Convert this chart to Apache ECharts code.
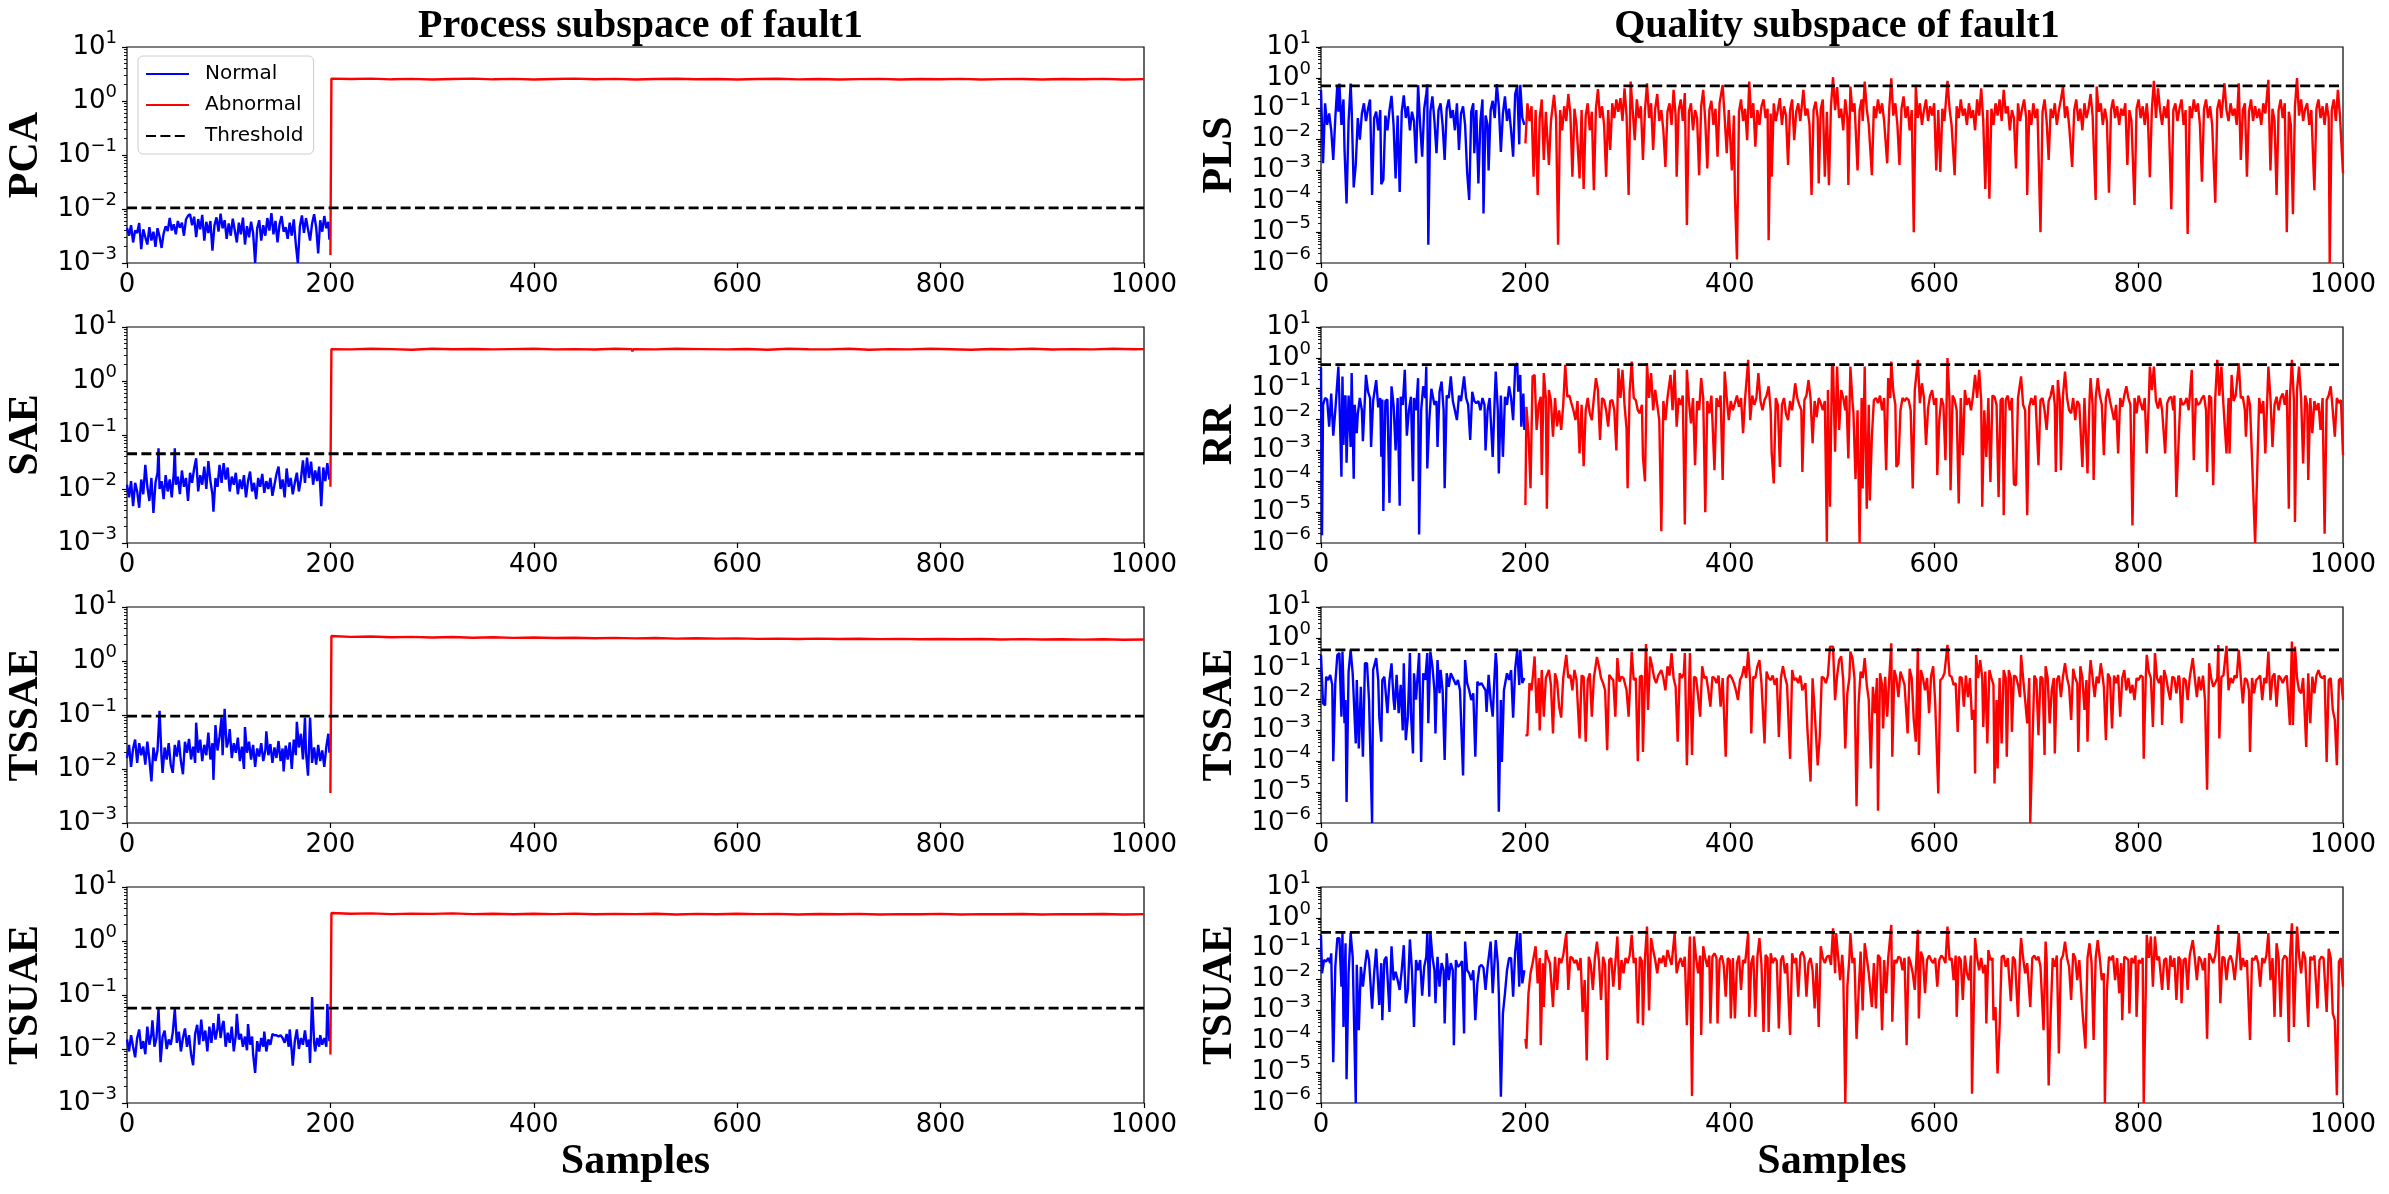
<!DOCTYPE html>
<html>
<head>
<meta charset="utf-8">
<script src="https://cdn.jsdelivr.net/npm/echarts@6/dist/echarts.min.js"></script>
<style>
html, body { margin: 0; padding: 0; background: #fff; }
#chart { width: 2389px; height: 1194px; }
</style>
</head>
<body>
<div id="chart"></div>
<script>
// sample axis
const xTicks = [0, 200, 400, 600, 800, 1000]

// ---- process subspace (left column) ----
const pcaThreshold = 1.05e-2
const pcaNormal = [[0,4.5e-3],[2,3.2e-3],[4,5e-3],[6,2.4e-3],[8,4e-3],[10,3.6e-3],[12,5.5e-3],[14,1.8e-3],[16,4.2e-3],[18,3e-3],[20,2.2e-3],[22,4.6e-3],[24,2.6e-3],[26,3.8e-3],[28,2e-3],[30,4.4e-3],[32,3.1e-3],[34,1.9e-3],[36,3.5e-3],[38,4.8e-3],[40,3.9e-3],[42,6.8e-3],[44,4e-3],[46,5.2e-3],[48,3.4e-3],[50,6e-3],[52,4.5e-3],[54,5.6e-3],[56,3.2e-3],[58,6.4e-3],[60,7.5e-3],[62,8e-3],[64,5e-3],[66,7.2e-3],[68,3e-3],[70,6.5e-3],[72,4.2e-3],[74,7.8e-3],[76,2.6e-3],[78,5.8e-3],[80,3.6e-3],[82,6e-3],[84,1.7e-3],[86,5e-3],[88,7e-3],[90,3.8e-3],[92,8.2e-3],[94,4.4e-3],[96,6.2e-3],[98,2.8e-3],[100,5.4e-3],[102,3.2e-3],[104,6.6e-3],[106,4e-3],[108,2.4e-3],[110,5.6e-3],[112,3.4e-3],[114,6.9e-3],[116,2.2e-3],[118,4.8e-3],[120,3e-3],[122,5.8e-3],[124,3.6e-3],[126,1e-3],[128,4.4e-3],[130,6.2e-3],[132,2.6e-3],[134,5e-3],[136,3.2e-3],[138,6.8e-3],[140,4e-3],[142,8.4e-3],[144,3.4e-3],[146,6e-3],[148,2.4e-3],[150,5.2e-3],[152,7.4e-3],[154,3.8e-3],[156,4.6e-3],[158,2.8e-3],[160,5.6e-3],[162,3.2e-3],[164,6.4e-3],[166,2.2e-3],[168,1e-3],[170,4.8e-3],[172,7.6e-3],[174,3.6e-3],[176,6.8e-3],[178,4.2e-3],[180,2.6e-3],[182,5.4e-3],[184,8e-3],[186,4.6e-3],[188,1.5e-3],[190,6.2e-3],[192,3.8e-3],[194,7.4e-3],[196,4.4e-3],[198,5.8e-3],[199,2.7e-3]]
const pcaAbnormal = [[200,1.4e-3],[201,2.6],[220,2.55],[240,2.6],[260,2.52],[280,2.57],[300,2.5],[320,2.56],[340,2.6],[360,2.52],[380,2.57],[400,2.5],[420,2.55],[440,2.6],[460,2.53],[480,2.57],[500,2.5],[520,2.55],[540,2.58],[560,2.52],[580,2.56],[600,2.5],[620,2.55],[640,2.58],[660,2.51],[680,2.56],[700,2.5],[720,2.54],[740,2.57],[760,2.5],[780,2.55],[800,2.52],[820,2.57],[840,2.5],[860,2.54],[880,2.56],[900,2.5],[920,2.55],[940,2.52],[960,2.57],[980,2.5],[1000,2.54]]

const saeThreshold = 4.5e-2
const saeNormal = [[0,1.2e-2],[2,7e-3],[4,1.4e-2],[6,4.8e-3],[8,1.3e-2],[10,9e-3],[12,4.5e-3],[14,1.5e-2],[16,8e-3],[18,2.8e-2],[20,1.1e-2],[22,6e-3],[24,1.6e-2],[26,3.6e-3],[28,1.3e-2],[30,2e-2],[31,5.7e-2],[32,1e-2],[34,1.4e-2],[36,6.5e-3],[38,1.8e-2],[40,9e-3],[42,1.5e-2],[44,7e-3],[46,2e-2],[47,5.7e-2],[48,1.2e-2],[50,1.7e-2],[52,8e-3],[54,2.2e-2],[56,1.1e-2],[58,1.6e-2],[60,6e-3],[62,2e-2],[64,1.3e-2],[66,2.4e-2],[68,3.7e-2],[70,9e-3],[72,1.8e-2],[74,1.2e-2],[76,2.6e-2],[78,1e-2],[80,3.3e-2],[82,1.4e-2],[84,8e-3],[85,3.8e-3],[87,1.6e-2],[89,1.1e-2],[91,2.8e-2],[93,1.3e-2],[95,3e-2],[97,1.5e-2],[99,2.5e-2],[101,9e-3],[103,1.7e-2],[105,1.2e-2],[107,2e-2],[109,8e-3],[111,1.5e-2],[113,1e-2],[115,1.8e-2],[117,7e-3],[119,1.4e-2],[121,2.1e-2],[123,9e-3],[125,1.3e-2],[127,6.5e-3],[129,1.6e-2],[131,1.1e-2],[133,1.9e-2],[135,8.5e-3],[137,1.4e-2],[139,1e-2],[141,1.6e-2],[143,7.5e-3],[145,1.2e-2],[147,1.9e-2],[149,2.6e-2],[151,1e-2],[153,1.5e-2],[155,7e-3],[157,2.4e-2],[159,1.1e-2],[161,1.6e-2],[163,8e-3],[165,1.3e-2],[167,2e-2],[169,9e-3],[171,1.5e-2],[173,3.4e-2],[175,1.3e-2],[177,3.8e-2],[179,1.6e-2],[181,3.2e-2],[183,1.2e-2],[185,2.2e-2],[187,1.4e-2],[189,2.6e-2],[191,4.8e-3],[193,2.5e-2],[195,1.4e-2],[197,3e-2],[199,1.5e-2]]
const saeAbnormal = [[200,1.1e-2],[201,3.9],[220,3.85],[240,3.95],[260,3.9],[280,3.8],[300,3.95],[320,3.88],[340,3.92],[360,3.85],[376,3.9],[377,3.6],[378,3.9],[400,3.95],[420,3.85],[440,3.9],[460,3.82],[480,3.95],[496,3.9],[497,3.55],[498,3.9],[520,3.85],[540,3.95],[564,3.9],[565,3.6],[566,3.9],[590,3.85],[610,3.92],[630,3.8],[650,3.95],[670,3.88],[690,3.85],[710,3.95],[730,3.8],[750,3.9],[770,3.85],[790,3.95],[810,3.88],[830,3.8],[850,3.92],[870,3.85],[890,3.95],[910,3.82],[930,3.9],[950,3.85],[970,3.95],[990,3.88],[1000,3.9]]

const tssaeThreshold = 9.5e-2
const tssaeNormal = [[0,1.6e-2],[2,2.8e-2],[4,1.1e-2],[6,2.4e-2],[8,3.5e-2],[10,1.3e-2],[12,3e-2],[14,1.8e-2],[16,2.6e-2],[18,1.2e-2],[20,3.2e-2],[22,1.5e-2],[24,5.9e-3],[26,2.5e-2],[28,1.4e-2],[30,2.2e-2],[32,0.12],[34,1.6e-2],[35,8.5e-3],[37,2.5e-2],[39,1.5e-2],[41,3e-2],[43,1.2e-2],[45,8.5e-3],[47,2.8e-2],[49,1.7e-2],[51,3.4e-2],[53,1.4e-2],[55,8e-3],[57,3.2e-2],[59,2e-2],[61,3.6e-2],[63,1.5e-2],[65,2.6e-2],[67,1.3e-2],[68,7.2e-2],[70,2e-2],[72,3.5e-2],[74,1.4e-2],[76,2.8e-2],[78,1.8e-2],[80,4.7e-2],[82,1.5e-2],[84,3e-2],[85,6.3e-3],[87,6.5e-2],[89,2.2e-2],[91,4e-2],[93,9e-2],[94,1.8e-2],[96,0.13],[98,2.5e-2],[100,3.5e-2],[101,5.5e-2],[103,1.6e-2],[105,3e-2],[107,2e-2],[109,3.8e-2],[111,1.4e-2],[113,2.6e-2],[115,1e-2],[116,6e-2],[118,2e-2],[120,3.2e-2],[122,1.5e-2],[124,2.8e-2],[126,1.1e-2],[128,2.4e-2],[130,1.7e-2],[132,3e-2],[134,1.4e-2],[136,2.2e-2],[137,5e-2],[139,1.8e-2],[141,2.9e-2],[143,1.3e-2],[145,2.5e-2],[147,1.6e-2],[149,3.3e-2],[151,1.4e-2],[153,2.4e-2],[154,9e-3],[156,2.7e-2],[158,1.5e-2],[160,3.1e-2],[162,1e-2],[164,3.5e-2],[166,1.8e-2],[167,7.5e-2],[169,2.5e-2],[171,4.5e-2],[173,1.5e-2],[175,9e-2],[176,2e-2],[178,7.5e-3],[180,9e-2],[182,1.3e-2],[184,2.5e-2],[186,1.2e-2],[188,2.8e-2],[190,1.4e-2],[192,2.2e-2],[194,1.1e-2],[196,2.6e-2],[198,4.5e-2],[199,2e-2]]
const tssaeAbnormal = [[200,3.6e-3],[201,2.9],[220,2.8],[240,2.85],[260,2.75],[280,2.8],[300,2.72],[320,2.78],[340,2.7],[360,2.75],[380,2.68],[400,2.72],[420,2.66],[440,2.7],[460,2.64],[480,2.68],[500,2.62],[520,2.66],[540,2.6],[560,2.64],[580,2.6],[600,2.62],[620,2.57],[640,2.6],[660,2.56],[680,2.6],[700,2.55],[720,2.58],[740,2.54],[760,2.57],[780,2.53],[800,2.56],[820,2.52],[840,2.55],[860,2.5],[880,2.54],[900,2.5],[920,2.53],[940,2.49],[960,2.52],[980,2.48],[1000,2.5]]

const tsuaeThreshold = 5.7e-2
const tsuaeNormal = [[0,1.5e-2],[2,9e-3],[4,1.8e-2],[6,1.1e-2],[8,7e-3],[10,1.6e-2],[12,2.3e-2],[14,1e-2],[16,1.4e-2],[18,8e-3],[20,2.6e-2],[22,1.2e-2],[24,1.9e-2],[25,3.4e-2],[27,1.1e-2],[29,1.6e-2],[31,5.5e-2],[33,5.7e-3],[35,1.7e-2],[37,2.2e-2],[39,1e-2],[41,1.5e-2],[43,1.2e-2],[45,2e-2],[47,5.5e-2],[49,1.3e-2],[51,2.1e-2],[53,9e-3],[55,1.6e-2],[57,2.4e-2],[59,1.1e-2],[61,1.8e-2],[63,8e-3],[65,5e-3],[67,1.9e-2],[69,2.8e-2],[71,1.2e-2],[73,3.5e-2],[75,1.4e-2],[77,2.2e-2],[79,9e-3],[81,2.6e-2],[83,1.3e-2],[85,3e-2],[87,1.5e-2],[89,2.4e-2],[90,4.5e-2],[92,1.6e-2],[94,2.9e-2],[95,3.3e-2],[97,1.1e-2],[99,2e-2],[101,1.3e-2],[103,2.6e-2],[105,9e-3],[107,1.8e-2],[108,4.5e-2],[110,1.5e-2],[112,1.9e-2],[114,1.1e-2],[116,1.7e-2],[118,9.5e-3],[119,2.9e-2],[121,1.2e-2],[123,1.7e-2],[124,8e-3],[126,3.6e-3],[128,1.4e-2],[130,9e-3],[132,1.6e-2],[134,1.1e-2],[135,2.1e-2],[137,9e-3],[139,1.5e-2],[141,1.2e-2],[143,1.9e-2],[145,1.8e-2],[147,1.8e-2],[149,1.7e-2],[151,1.8e-2],[153,1.6e-2],[155,1.3e-2],[157,1.9e-2],[159,1.1e-2],[160,2.3e-2],[162,9e-3],[163,4.9e-3],[165,1.4e-2],[167,2.3e-2],[169,1e-2],[171,1.6e-2],[173,1.2e-2],[175,2.2e-2],[177,1.1e-2],[179,1.5e-2],[180,5.5e-3],[182,9.2e-2],[184,1.3e-2],[185,9e-3],[187,1.6e-2],[189,1.1e-2],[190,1.8e-2],[192,1.2e-2],[194,1.6e-2],[196,1.1e-2],[197,6.8e-2],[199,1.4e-2]]
const tsuaeAbnormal = [[200,7.9e-3],[201,3.3],[220,3.2],[240,3.25],[260,3.15],[280,3.22],[300,3.18],[320,3.25],[340,3.15],[360,3.2],[380,3.12],[400,3.2],[420,3.15],[440,3.22],[460,3.12],[480,3.18],[500,3.15],[520,3.2],[540,3.1],[560,3.18],[580,3.12],[600,3.2],[620,3.14],[640,3.18],[660,3.1],[680,3.16],[700,3.12],[720,3.18],[740,3.1],[760,3.15],[780,3.12],[800,3.18],[820,3.1],[840,3.15],[860,3.12],[880,3.17],[900,3.1],[920,3.15],[940,3.12],[960,3.16],[980,3.1],[1000,3.14]]

// ---- quality subspace (right column) ----
const plsThreshold = 0.55
const plsNormal = [[0,0.4],[2,1.7e-3],[4,0.15],[6,0.03],[8,0.07],[10,0.02],[12,2.2e-3],[14,0.05],[16,0.6],[17,0.08],[18,0.65],[20,0.03],[22,0.2],[23,5e-3],[25,8.5e-5],[27,0.04],[29,0.65],[30,0.1],[32,2.8e-4],[34,1.5e-3],[36,0.05],[38,0.01],[40,0.07],[42,0.15],[44,0.04],[46,0.1],[48,0.2],[50,1.6e-4],[52,0.05],[54,0.08],[56,0.02],[58,0.09],[59,3.6e-4],[61,5e-4],[63,0.06],[65,0.02],[67,0.09],[69,0.26],[71,0.03],[73,5.5e-4],[75,0.06],[77,2e-4],[79,0.08],[81,0.27],[83,0.05],[85,0.12],[87,0.02],[89,0.08],[91,0.04],[93,1.7e-3],[95,0.58],[97,0.03],[99,2.8e-3],[101,0.1],[103,0.3],[104,0.62],[105,3.9e-6],[107,0.08],[109,0.25],[111,0.04],[113,3.6e-3],[115,0.09],[117,0.15],[119,0.03],[121,2.2e-3],[123,0.1],[125,0.2],[127,0.05],[129,0.09],[131,0.02],[133,0.15],[135,4.6e-3],[137,0.07],[139,0.12],[141,0.03],[143,8.7e-4],[145,1.1e-4],[147,0.08],[149,0.15],[150,3.6e-3],[152,0.09],[154,3.8e-4],[156,0.04],[158,0.2],[159,4e-5],[161,0.06],[163,0.03],[164,1e-3],[166,0.09],[168,0.18],[170,0.05],[172,0.63],[174,0.12],[176,4e-3],[178,0.07],[180,0.25],[182,0.04],[184,0.1],[186,0.02],[188,2.8e-3],[190,0.3],[192,0.55],[194,7e-3],[195,0.6],[197,0.05],[199,0.03]]
const plsAbnormal = [[200,7.5e-3],[202,0.15],[204,0.04],[206,0.12],[208,6.3e-4],[210,0.09],[212,1.6e-4],[214,0.05],[216,0.2],[218,2.2e-3],[220,0.08],[223,1.5e-3],[225,0.04],[228,0.28],[230,0.05],[232,3.9e-6],[234,0.09],[236,0.02],[238,0.12],[240,0.04],[242,0.3],[244,0.07],[246,6.2e-4],[248,0.1],[250,0.03],[253,5.5e-4],[255,0.09],[257,2.5e-4],[259,0.06],[261,0.15],[263,0.02],[265,0.08],[267,2.3e-4],[269,0.1],[271,0.43],[273,0.05],[275,0.12],[277,0.03],[279,6.2e-4],[281,0.09],[283,4.6e-3],[285,0.15],[287,0.05],[289,0.2],[291,0.08],[293,0.22],[295,0.04],[297,0.46],[299,0.06],[301,1.6e-4],[303,0.76],[305,0.09],[307,9.6e-3],[309,0.2],[311,0.05],[313,0.12],[315,2.2e-3],[317,0.09],[319,0.67],[321,0.05],[323,0.15],[325,4.6e-3],[327,0.1],[329,0.3],[331,0.04],[333,0.09],[335,0.02],[337,1.3e-3],[339,0.08],[341,0.15],[343,0.03],[345,0.41],[347,0.06],[348,6.2e-4],[350,0.09],[352,0.2],[354,0.04],[356,0.32],[358,1.7e-5],[360,0.08],[362,0.15],[364,0.02],[366,0.09],[368,0.05],[370,7e-4],[372,0.12],[374,0.41],[376,0.04],[378,1.15e-3],[380,0.09],[382,0.18],[384,0.03],[386,0.1],[388,2.8e-3],[390,0.15],[393,0.59],[395,0.05],[397,3.6e-3],[399,0.09],[402,1e-3],[404,0.06],[405,1.6e-4],[407,1.3e-6],[409,0.08],[411,0.2],[413,0.04],[415,0.1],[417,9.6e-3],[419,0.76],[421,0.05],[423,0.15],[425,5.9e-3],[427,0.09],[429,0.03],[431,0.12],[433,0.2],[435,0.05],[437,0.1],[438,5.5e-6],[440,0.07],[441,6.2e-4],[443,0.15],[445,0.04],[447,0.09],[449,0.22],[451,0.03],[453,0.12],[455,0.06],[457,1.5e-3],[459,0.09],[461,0.2],[463,9.6e-3],[465,0.08],[467,0.15],[469,0.04],[472,0.41],[474,0.06],[476,0.1],[478,0.03],[480,1.6e-4],[482,0.09],[484,0.17],[486,0.05],[487,3.8e-4],[489,0.1],[491,0.2],[493,6.2e-4],[495,0.08],[497,3.3e-4],[499,0.12],[501,1.05],[503,0.09],[505,0.5],[507,0.05],[509,0.1],[511,0.02],[513,0.2],[515,0.05],[516,3.4e-4],[518,0.52],[520,0.08],[522,0.15],[525,1e-3],[527,0.09],[529,0.2],[530,0.04],[532,0.76],[534,0.1],[536,0.03],[539,7e-4],[541,0.12],[543,0.05],[545,0.2],[547,0.07],[549,0.15],[551,0.04],[554,1.7e-3],[556,0.1],[558,0.97],[560,0.06],[562,0.15],[564,0.03],[566,1.5e-3],[568,0.1],[570,0.25],[572,0.05],[574,0.12],[576,0.02],[578,0.09],[580,1e-5],[582,0.52],[584,0.05],[586,0.15],[588,0.03],[590,0.09],[592,0.2],[594,0.04],[596,0.12],[598,0.06],[600,0.15],[602,1e-3],[604,0.09],[606,9e-4],[608,0.1],[610,0.04],[613,0.8],[615,0.1],[617,0.03],[620,7e-4],[622,0.12],[624,0.05],[626,0.2],[628,0.06],[630,0.1],[632,0.03],[634,0.15],[636,0.05],[638,0.09],[640,0.02],[642,0.2],[644,0.06],[646,0.46],[648,0.04],[650,2.5e-4],[652,0.09],[654,1.2e-4],[656,0.1],[658,0.03],[660,0.15],[662,0.06],[664,0.2],[666,0.04],[668,0.41],[670,0.07],[672,0.12],[674,0.02],[676,0.09],[678,0.05],[680,1.15e-3],[682,0.15],[684,0.04],[686,0.1],[688,0.2],[690,0.05],[691,1.6e-4],[693,0.09],[695,0.03],[697,0.15],[699,0.05],[701,0.1],[704,1e-5],[706,0.08],[708,0.2],[710,0.04],[712,2.2e-3],[714,0.1],[716,0.05],[718,0.15],[720,0.03],[722,0.09],[724,0.2],[726,0.52],[728,0.05],[730,0.12],[732,0.03],[735,1.3e-3],[737,0.09],[739,0.2],[741,0.04],[743,0.1],[745,0.02],[747,0.15],[749,0.05],[751,0.1],[753,0.3],[755,0.06],[758,1.1e-4],[759,0.52],[761,0.08],[763,0.15],[765,0.03],[767,0.1],[769,0.04],[771,1.9e-4],[773,0.09],[775,0.2],[777,0.05],[779,0.12],[781,0.03],[783,0.1],[785,0.06],[787,0.15],[789,1.5e-3],[791,0.09],[793,0.04],[796,7.6e-5],[798,0.1],[800,0.2],[802,0.05],[804,0.12],[806,0.03],[808,0.15],[809,0.06],[811,6e-4],[813,0.1],[815,0.8],[817,0.05],[819,0.46],[821,0.09],[823,0.03],[825,0.12],[827,0.05],[829,0.2],[832,5.5e-5],[834,0.09],[836,0.15],[838,0.04],[840,0.1],[842,0.2],[844,0.03],[846,0.09],[848,8.7e-6],[850,0.12],[852,0.05],[854,0.2],[856,0.08],[858,0.15],[860,0.03],[862,4.3e-4],[864,0.1],[866,0.2],[868,0.05],[870,0.12],[872,0.03],[875,9e-5],[877,0.1],[879,0.2],[881,0.05],[884,0.67],[886,0.09],[888,0.04],[890,0.15],[892,0.06],[894,0.1],[896,0.03],[898,0.67],[900,2.2e-3],[902,0.09],[904,0.15],[906,6.2e-4],[908,0.08],[910,0.2],[912,0.04],[914,0.12],[916,0.05],[918,0.1],[920,0.03],[922,0.15],[924,0.07],[927,0.86],[929,1e-3],[931,0.1],[933,0.04],[935,1.6e-4],[937,0.09],[939,0.2],[941,0.05],[943,0.15],[945,1e-5],[947,0.08],[949,0.03],[951,3.8e-5],[953,0.12],[955,0.98],[957,0.06],[959,0.2],[961,0.04],[963,0.1],[965,0.15],[967,0.03],[969,0.09],[972,2.3e-4],[974,0.1],[976,0.2],[978,0.05],[980,0.12],[982,0.03],[984,0.15],[986,0.05],[987,1e-6],[989,0.09],[991,0.2],[993,0.04],[995,0.41],[997,0.06],[1000,8e-4]]

const rrThreshold = 0.6
const rrNormal = [[0,0.5],[1,1.8e-6],[2,0.03],[4,0.05],[6,0.045],[8,5.9e-3],[10,0.07],[12,3e-3],[14,0.02],[15,0.06],[17,0.52],[18,0.05],[20,1.4e-4],[21,0.25],[22,1.5e-3],[23,0.05],[24,0.06],[25,4e-4],[27,0.06],[29,1.3e-3],[30,0.32],[32,1.2e-4],[33,0.03],[35,3.6e-3],[36,0.015],[38,0.05],[40,0.02],[41,2e-3],[43,0.05],[44,0.28],[46,0.08],[48,0.05],[49,1.3e-3],[51,0.04],[54,0.19],[56,0.025],[58,0.05],[59,6.2e-4],[60,0.045],[61,1.1e-5],[63,0.04],[65,0.045],[67,2e-5],[69,0.12],[71,0.03],[73,1e-3],[75,0.05],[77,1.6e-5],[78,0.055],[80,0.03],[82,0.41],[84,3e-3],[86,0.02],[88,0.055],[90,1e-4],[91,0.05],[93,0.02],[95,0.22],[96,1.9e-6],[98,0.02],[100,0.12],[102,0.05],[103,0.52],[104,2.6e-4],[106,0.01],[108,0.1],[109,0.091],[111,0.03],[113,0.04],[114,1.3e-3],[116,0.08],[118,0.17],[120,0.02],[121,6e-5],[123,0.06],[125,0.05],[127,0.25],[129,0.04],[131,0.02],[133,9.6e-3],[135,0.06],[137,0.04],[140,0.25],[142,0.05],[144,0.03],[146,2.2e-3],[148,0.08],[150,0.04],[152,0.034],[154,0.04],[156,0.02],[158,0.05],[160,0.03],[161,1e-3],[163,0.02],[165,0.05],[168,6.2e-4],[170,0.05],[171,0.36],[173,0.02],[174,1.8e-4],[176,0.06],[178,6.2e-4],[180,0.055],[182,0.03],[184,0.12],[186,0.05],[188,9.6e-3],[190,0.52],[192,0.67],[193,0.08],[195,0.28],[196,5.9e-3],[198,0.07],[199,4.6e-3]]
const rrAbnormal = [[200,1.7e-5],[201,0.026],[203,3.6e-3],[205,6e-5],[207,0.25],[209,0.28],[211,4.6e-3],[213,0.03],[215,0.055],[216,1.6e-4],[218,0.32],[220,0.05],[221,1.3e-5],[223,0.091],[225,0.04],[227,2.8e-3],[229,0.05],[231,6e-3],[233,0.02],[235,4.6e-3],[237,0.03],[239,0.59],[241,0.055],[243,0.06],[245,0.034],[247,0.02],[249,9.6e-3],[251,0.04],[253,8e-4],[255,0.03],[257,3.1e-4],[259,0.02],[261,0.05],[263,0.016],[265,9.6e-3],[267,0.05],[269,0.22],[271,0.09],[273,2.2e-3],[275,0.05],[277,0.043],[279,0.02],[281,5.9e-3],[283,0.04],[285,0.043],[287,0.02],[289,1e-3],[291,0.46],[293,0.05],[295,0.41],[297,0.03],[299,5e-3],[300,6e-5],[302,0.08],[304,0.76],[306,0.05],[308,0.043],[310,0.02],[312,0.016],[314,0.03],[315,6.2e-4],[317,1e-4],[319,0.67],[321,0.05],[323,0.32],[325,0.02],[327,0.091],[329,0.03],[331,9.6e-3],[333,2.4e-6],[335,0.04],[337,9.6e-3],[339,0.05],[342,0.28],[344,0.02],[346,0.41],[348,5.9e-3],[350,0.05],[352,0.03],[354,0.06],[356,4e-6],[358,0.41],[360,0.04],[362,7.5e-3],[364,0.05],[366,3.3e-4],[368,0.04],[370,0.02],[372,0.22],[374,0.05],[376,1e-5],[378,0.04],[380,0.016],[382,0.06],[385,2.3e-4],[387,0.05],[389,0.026],[391,0.06],[393,1.1e-4],[395,0.36],[397,0.05],[399,9.6e-3],[401,0.04],[403,0.02],[405,0.034],[407,0.06],[409,0.026],[411,0.05],[413,3.6e-3],[415,0.05],[418,0.86],[420,9.6e-3],[422,0.06],[424,0.03],[426,0.05],[428,0.32],[430,0.04],[432,0.02],[434,0.043],[436,0.06],[438,0.12],[440,0.02],[441,8e-4],[443,8.5e-5],[445,0.05],[447,0.03],[449,2.9e-4],[451,0.03],[453,0.05],[455,0.015],[457,9.6e-3],[459,0.04],[461,0.02],[464,0.15],[466,0.05],[468,0.03],[470,0.02],[471,2e-4],[473,0.043],[475,0.06],[477,0.19],[479,0.05],[481,1.7e-3],[483,0.04],[485,0.012],[487,0.05],[489,0.034],[491,0.02],[493,0.04],[495,1.1e-6],[496,0.091],[498,1.5e-5],[500,0.5],[501,0.67],[503,9e-4],[505,0.52],[507,4.6e-3],[509,0.091],[511,0.05],[513,0.02],[514,0.06],[516,5.5e-4],[518,0.52],[520,0.04],[521,0.016],[523,1.2e-4],[525,0.02],[527,1e-6],[529,0.05],[530,5.8e-5],[532,0.52],[534,1.3e-5],[536,0.03],[537,2.4e-5],[539,2.8e-3],[541,0.043],[543,0.05],[545,0.034],[547,0.06],[549,0.02],[551,0.05],[553,2.3e-4],[555,0.22],[557,0.05],[558,0.76],[560,0.081],[562,0.03],[563,2.9e-4],[565,3.8e-4],[567,0.02],[569,0.05],[571,0.04],[573,0.05],[575,0.043],[577,0.02],[579,5.8e-5],[581,0.09],[584,0.86],[586,0.034],[588,0.15],[590,0.05],[592,1.5e-3],[594,0.023],[596,0.06],[598,0.09],[600,0.03],[602,0.05],[603,1.6e-4],[605,9.6e-3],[607,0.05],[609,0.03],[611,4.8e-4],[613,0.98],[615,0.04],[616,5.1e-5],[618,0.06],[620,0.043],[622,0.02],[624,1.9e-5],[626,0.05],[628,7e-4],[630,0.091],[632,0.03],[634,0.05],[636,0.02],[638,0.06],[640,0.28],[642,0.05],[644,0.41],[646,0.04],[647,1.5e-5],[649,0.02],[651,6.2e-4],[653,0.05],[655,9.5e-5],[657,0.06],[659,0.055],[661,0.03],[663,3.1e-5],[665,0.043],[667,0.05],[668,8e-6],[670,0.043],[672,0.06],[674,0.02],[676,0.05],[678,8e-5],[680,7.4e-5],[682,0.05],[685,0.25],[687,0.03],[689,0.02],[691,8e-6],[693,0.026],[695,0.05],[697,0.03],[699,0.06],[702,3.3e-4],[704,0.043],[706,0.05],[708,0.02],[710,4.6e-3],[712,0.04],[714,0.06],[716,0.13],[718,0.03],[719,2e-4],[721,0.19],[723,0.04],[724,2.3e-4],[726,0.06],[728,0.36],[730,0.05],[732,0.02],[734,0.016],[736,0.05],[738,9.6e-3],[740,0.04],[742,0.03],[745,2.9e-4],[747,0.05],[750,1.8e-4],[752,0.043],[753,0.22],[755,0.03],[756,1.1e-4],[758,0.05],[760,0.22],[762,0.06],[764,0.03],[766,7e-4],[768,0.05],[770,0.1],[772,0.04],[774,0.02],[776,9.6e-3],[778,0.03],[780,8e-4],[782,0.05],[784,0.026],[786,0.06],[788,0.12],[790,0.05],[792,0.03],[794,3.7e-6],[796,0.05],[798,0.016],[800,0.06],[802,0.034],[804,0.02],[806,0.05],[808,8e-4],[810,0.04],[811,0.52],[813,0.09],[815,0.52],[817,0.04],[819,0.023],[821,0.05],[823,0.02],[826,8e-4],[828,0.034],[830,0.05],[832,0.055],[834,0.02],[835,0.06],[837,3.1e-5],[839,1.5e-3],[841,0.05],[843,0.03],[845,0.034],[847,0.05],[849,0.02],[852,0.41],[854,4.8e-4],[856,0.05],[858,0.03],[860,0.034],[862,0.05],[864,0.06],[866,0.02],[867,2e-4],[869,0.06],[871,0.05],[873,7.4e-5],[875,0.05],[877,0.86],[879,0.06],[881,0.52],[883,0.03],[886,8e-4],[888,0.05],[889,8e-4],[891,0.28],[893,0.04],[895,0.06],[898,0.67],[900,0.05],[902,0.055],[904,0.02],[905,2.8e-3],[907,0.06],[909,0.03],[912,6.6e-5],[914,1e-6],[916,1.8e-4],[918,0.05],[920,0.016],[922,0.04],[924,8e-4],[926,0.06],[927,0.52],[929,0.05],[931,1.3e-3],[933,0.03],[935,0.055],[937,0.02],[939,0.05],[941,0.07],[943,0.03],[945,0.09],[947,1.3e-5],[948,0.05],[950,0.86],[952,0.04],[953,4.8e-6],[955,0.09],[957,0.52],[959,0.05],[961,3.8e-4],[963,0.06],[965,0.03],[966,1.1e-4],[968,0.05],[970,3.6e-3],[972,0.04],[974,0.02],[976,0.034],[978,4.6e-3],[980,0.05],[982,2e-6],[984,0.043],[986,0.06],[988,0.12],[990,0.02],[992,2.8e-3],[994,0.05],[996,0.034],[998,0.043],[1000,7e-4]]

const qTssaeThreshold = 0.41
const qTssaeNormal = [[0,0.28],[1,0.043],[2,7.5e-3],[4,6.5e-3],[5,0.055],[7,0.043],[9,0.063],[11,0.03],[12,1e-4],[14,0.034],[16,0.28],[18,0.32],[20,2.8e-3],[21,0.36],[23,1.7e-3],[24,9.6e-3],[25,4.8e-6],[27,0.081],[29,0.41],[31,0.071],[34,3.8e-4],[35,0.043],[37,2.6e-4],[39,0.026],[41,1.4e-4],[43,0.15],[45,0.15],[47,9.6e-3],[50,1e-6],[51,0.091],[54,0.22],[56,0.043],[57,2.8e-3],[59,4.3e-4],[60,0.043],[62,0.055],[65,3.6e-3],[67,0.043],[69,0.15],[71,0.01],[72,4.6e-3],[74,0.063],[76,3.6e-3],[78,0.03],[80,1e-3],[81,0.15],[83,4.8e-4],[85,2.8e-3],[87,0.32],[88,3.6e-3],[90,1.8e-4],[91,0.071],[93,0.01],[96,0.32],[98,9.5e-5],[100,0.071],[102,0.043],[104,0.32],[105,1.7e-3],[107,0.36],[109,0.12],[111,0.02],[112,8e-4],[114,0.19],[116,0.016],[117,0.091],[119,0.02],[121,1.1e-4],[123,0.071],[125,0.026],[127,0.071],[130,0.043],[132,0.03],[134,0.043],[136,0.02],[139,3.5e-5],[141,0.19],[143,0.034],[145,0.02],[147,9.6e-3],[149,0.016],[151,1.4e-4],[153,0.038],[155,0.03],[157,0.034],[159,0.026],[161,0.02],[162,4e-3],[164,0.063],[166,9.6e-3],[168,2.8e-3],[170,0.08],[171,0.32],[172,0.12],[174,2.3e-6],[176,9.6e-3],[177,9.5e-5],[179,0.02],[182,0.071],[184,0.043],[186,0.09],[188,2.6e-3],[190,0.1],[192,0.41],[194,0.03],[195,0.41],[197,0.034],[199,0.05]]
const qTssaeAbnormal = [[200,7e-4],[202,7e-4],[204,0.034],[206,0.02],[208,0.1],[209,0.25],[211,3.6e-3],[213,0.05],[214,1e-3],[216,0.091],[218,2.8e-3],[220,0.05],[223,0.091],[225,0.03],[227,8e-4],[229,0.071],[231,0.04],[233,5.9e-3],[235,2.6e-3],[237,0.05],[240,0.28],[242,0.05],[244,0.063],[246,0.02],[248,0.091],[250,0.043],[253,5.5e-4],[255,0.06],[257,0.055],[259,4.3e-4],[261,0.043],[263,0.071],[265,2.8e-3],[267,0.05],[270,0.24],[272,0.12],[274,0.05],[276,0.034],[278,0.02],[280,2.3e-4],[282,0.063],[284,0.05],[286,0.043],[288,2.8e-3],[290,0.22],[292,0.038],[294,0.055],[296,0.05],[299,0.02],[301,2.8e-3],[304,0.36],[306,0.043],[308,0.05],[310,1e-4],[312,0.055],[314,0.06],[315,2e-4],[317,0.05],[318,0.63],[320,4.6e-3],[322,0.25],[324,0.12],[326,0.05],[328,0.034],[330,0.06],[333,0.091],[335,0.05],[337,0.02],[339,0.12],[341,0.06],[343,0.32],[345,0.05],[347,0.026],[349,4.3e-4],[351,0.071],[353,0.05],[355,0.07],[356,0.32],[358,7.4e-5],[361,0.32],[363,1.6e-4],[365,0.055],[367,0.05],[369,0.013],[371,2.8e-3],[373,0.12],[375,0.05],[377,0.055],[379,0.02],[381,5.9e-3],[383,0.055],[385,0.05],[387,0.034],[389,0.06],[391,5.9e-3],[393,0.05],[396,1.4e-4],[398,0.05],[400,0.063],[402,0.05],[404,0.034],[406,0.02],[408,9.6e-3],[410,0.043],[412,0.06],[414,0.12],[416,0.05],[418,0.36],[420,0.034],[421,8e-4],[423,0.055],[425,0.05],[427,0.12],[429,0.19],[431,0.034],[434,3.8e-4],[436,0.081],[438,0.05],[440,0.043],[442,0.06],[444,0.03],[446,0.05],[448,6.2e-4],[450,0.05],[452,0.12],[454,0.055],[456,0.03],[459,1.2e-4],[461,0.091],[463,0.043],[465,0.05],[467,0.034],[469,0.06],[471,0.02],[474,0.034],[476,1e-3],[479,2.2e-5],[481,0.049],[483,4.6e-3],[486,7.4e-5],[488,6.2e-4],[490,0.055],[492,0.05],[494,0.034],[496,0.06],[498,0.52],[501,0.52],[503,9.6e-3],[505,0.06],[507,0.19],[509,0.25],[511,0.043],[513,2.6e-4],[515,0.016],[517,0.05],[518,0.36],[520,0.22],[522,0.05],[524,3.5e-6],[526,7.5e-3],[528,0.081],[530,0.05],[532,0.22],[534,0.03],[536,9.6e-3],[538,5.8e-5],[540,0.026],[542,3.6e-3],[544,0.05],[545,2.5e-6],[547,0.071],[549,0.03],[550,1.15e-3],[552,0.055],[554,2.8e-3],[556,0.049],[558,0.67],[559,1.4e-4],[561,0.091],[563,0.05],[565,0.012],[567,0.081],[569,0.05],[571,0.03],[574,8e-4],[576,0.1],[578,0.05],[580,2.2e-3],[582,4.3e-4],[584,0.46],[585,1.6e-4],[587,0.091],[589,0.05],[591,0.02],[593,0.05],[595,3.6e-3],[597,0.06],[599,0.12],[601,7.5e-3],[604,9e-6],[606,0.043],[608,0.05],[610,0.071],[613,0.59],[615,0.06],[617,0.055],[619,0.03],[621,0.034],[623,9e-4],[625,0.055],[627,0.05],[629,5.9e-3],[631,0.06],[633,0.012],[635,0.05],[637,2.2e-3],[639,4.6e-3],[640,4e-5],[641,0.28],[643,0.05],[645,0.19],[647,0.05],[648,1.3e-3],[650,0.081],[652,3.8e-4],[654,0.091],[656,0.05],[658,0.03],[659,1.9e-5],[661,9.6e-3],[662,5.8e-5],[664,0.05],[666,3.8e-4],[668,0.091],[670,0.05],[671,1.4e-4],[673,0.091],[675,0.05],[676,9e-4],[678,0.06],[680,0.055],[682,0.03],[684,0.012],[685,0.28],[687,0.05],[689,9.6e-3],[691,1.7e-3],[693,0.05],[694,1e-6],[696,2.9e-4],[698,0.06],[700,0.043],[702,7e-4],[704,0.055],[706,0.05],[708,1.6e-4],[709,0.12],[711,0.05],[713,1.7e-3],[715,0.02],[717,0.05],[718,1.8e-4],[720,0.043],[722,0.06],[724,0.012],[726,0.055],[728,0.15],[730,0.05],[732,0.026],[734,2.2e-3],[736,0.1],[738,0.05],[740,0.034],[741,2e-4],[743,0.12],[745,0.05],[747,4.6e-3],[749,0.043],[750,4.3e-4],[752,0.06],[753,0.19],[755,0.05],[757,0.012],[759,0.055],[761,0.034],[763,0.15],[765,0.05],[766,0.026],[768,4.8e-4],[770,0.07],[772,0.05],[774,1.15e-3],[776,0.06],[778,0.034],[780,0.063],[782,2.8e-3],[784,0.05],[786,0.09],[788,0.02],[790,0.05],[792,0.016],[794,0.03],[796,9.6e-3],[798,0.05],[800,0.043],[802,0.06],[804,0.055],[805,1.2e-4],[807,0.05],[808,0.28],[810,0.081],[812,0.05],[814,1.3e-3],[816,0.32],[818,0.05],[820,0.034],[822,0.06],[823,1.5e-3],[825,0.091],[827,0.05],[829,0.02],[831,9.6e-3],[833,0.055],[835,0.05],[837,0.016],[839,0.06],[840,0.05],[842,1.7e-3],[844,0.05],[846,0.043],[848,9.6e-3],[850,0.05],[853,0.22],[855,0.05],[857,0.012],[859,0.055],[861,0.02],[863,0.06],[865,9.6e-3],[867,1.2e-5],[869,0.15],[871,0.05],[873,0.026],[875,0.034],[877,0.05],[878,0.59],[879,5.5e-4],[881,0.055],[883,0.06],[886,0.55],[888,0.02],[890,0.05],[892,0.034],[894,0.06],[896,0.05],[898,0.41],[900,0.05],[902,7.5e-3],[904,0.05],[906,0.043],[908,0.02],[909,2e-4],[911,0.05],[913,0.016],[915,0.043],[917,0.05],[919,0.06],[921,9.6e-3],[923,0.05],[925,0.034],[927,0.36],[929,9.6e-3],[931,0.055],[933,0.07],[935,5.9e-3],[937,0.06],[939,0.05],[941,0.034],[943,0.05],[945,0.06],[948,1.5e-3],[950,0.76],[951,1.5e-3],[953,0.52],[955,0.05],[957,0.02],[959,0.016],[961,0.05],[964,2.9e-4],[966,0.071],[968,1.7e-3],[970,0.055],[972,0.016],[974,0.06],[976,0.09],[978,0.055],[980,0.05],[982,0.06],[984,9.5e-5],[986,0.043],[988,0.05],[990,4.6e-3],[992,2.2e-3],[994,7.4e-5],[996,0.043],[998,0.05],[1000,9.6e-3]]

const qTsuaeThreshold = 0.34
const qTsuaeNormal = [[0,0.28],[1,0.016],[3,0.043],[5,0.038],[7,0.05],[9,0.034],[10,0.071],[12,2.1e-5],[14,0.026],[16,0.22],[18,0.22],[20,5.9e-3],[21,0.32],[22,2.9e-4],[24,0.15],[25,5.9e-6],[27,0.016],[29,0.32],[31,0.055],[34,1e-6],[35,0.03],[37,2.3e-4],[39,0.026],[41,5.9e-3],[43,0.026],[45,0.091],[47,0.043],[50,1.15e-3],[52,0.016],[54,0.1],[57,1.5e-3],[59,0.034],[60,4.8e-4],[62,0.043],[64,0.055],[67,9e-4],[69,0.12],[71,9.6e-3],[73,0.018],[75,9.6e-3],[77,4.6e-3],[79,0.02],[81,0.13],[83,1.7e-3],[85,4.6e-3],[87,0.2],[89,0.02],[91,2.9e-4],[93,0.043],[95,0.02],[97,0.043],[99,3e-3],[101,0.026],[103,0.055],[104,0.32],[106,2.8e-3],[107,0.36],[109,0.055],[111,0.02],[112,1.7e-3],[114,0.055],[116,5.9e-3],[118,0.034],[120,0.02],[121,3.8e-4],[123,0.071],[125,9.6e-3],[127,0.034],[129,0.02],[130,7.4e-5],[132,0.043],[134,0.026],[136,0.03],[138,0.04],[140,1.8e-4],[141,0.17],[143,0.02],[145,0.016],[147,9.6e-3],[149,0.02],[151,4.8e-4],[153,7.5e-3],[155,0.026],[157,0.03],[159,0.024],[161,4.6e-3],[163,0.026],[166,0.17],[168,3.6e-3],[170,0.05],[171,0.19],[173,0.034],[174,3.6e-3],[176,1.6e-6],[178,8e-4],[180,3.6e-3],[182,0.02],[184,0.049],[186,0.05],[188,2.8e-3],[190,0.08],[192,0.32],[194,5.9e-3],[195,0.32],[197,7.5e-3],[199,0.02]]
const qTsuaeAbnormal = [[200,1.2e-4],[201,5.8e-5],[203,3.6e-3],[205,0.016],[207,0.034],[210,0.12],[212,7.5e-3],[214,0.05],[215,7.4e-5],[217,0.034],[218,1.3e-3],[220,0.091],[222,0.05],[224,0.034],[227,1.3e-3],[229,0.055],[231,4.6e-3],[233,0.05],[235,0.034],[237,0.06],[240,0.32],[242,4.6e-3],[244,0.055],[246,0.05],[248,0.034],[250,0.043],[252,0.02],[254,0.05],[256,9e-4],[258,9.6e-3],[260,2.4e-5],[262,0.055],[264,0.03],[266,4.6e-3],[268,0.05],[270,0.17],[272,0.04],[274,2.2e-3],[276,0.055],[278,0.03],[280,2.5e-5],[282,0.043],[284,0.05],[286,5.9e-3],[288,0.034],[290,0.25],[292,4.6e-3],[294,0.043],[296,0.016],[298,0.05],[300,0.034],[302,0.06],[304,0.28],[306,0.034],[308,0.05],[310,3.8e-4],[312,0.055],[314,0.04],[315,3.3e-4],[317,0.05],[319,0.52],[321,1e-3],[323,0.22],[325,0.091],[327,0.043],[329,0.016],[331,0.05],[333,0.034],[335,0.06],[337,0.026],[339,0.091],[341,0.05],[343,0.03],[346,0.32],[348,0.016],[350,0.034],[352,0.05],[354,0.026],[356,0.055],[358,3.3e-4],[360,0.05],[361,0.25],[363,1.7e-6],[365,0.25],[367,0.05],[369,0.016],[371,0.06],[372,1.6e-4],[374,0.12],[376,0.05],[378,0.026],[380,0.06],[381,3.8e-4],[383,0.055],[385,0.071],[387,0.05],[388,3.8e-4],[390,0.043],[392,0.06],[394,0.03],[396,2.8e-3],[398,0.05],[400,0.043],[401,5.5e-4],[403,0.05],[405,5.5e-4],[407,0.034],[409,0.06],[411,4.6e-3],[413,0.043],[415,0.034],[418,0.32],[419,6.2e-4],[421,0.034],[423,0.06],[425,6.2e-4],[427,0.055],[429,0.22],[431,0.03],[433,2e-4],[435,0.063],[437,0.05],[438,2e-4],[440,0.071],[442,0.034],[444,0.05],[446,0.04],[448,2.6e-4],[450,0.043],[452,0.06],[454,0.016],[456,0.034],[459,1.6e-4],[461,0.071],[463,0.034],[465,0.05],[467,2.8e-3],[469,0.06],[471,0.081],[473,0.05],[475,2.8e-3],[477,0.034],[479,0.05],[481,0.02],[483,1.15e-3],[485,0.034],[487,2.9e-4],[489,0.12],[491,0.05],[493,0.034],[495,0.055],[497,0.06],[499,0.03],[501,0.46],[503,0.016],[504,0.32],[506,0.055],[508,9.6e-3],[510,0.063],[511,0.02],[513,1e-6],[515,5.9e-3],[517,0.05],[518,0.32],[520,0.034],[522,0.05],[524,1.2e-4],[526,3.6e-3],[528,0.081],[530,1e-3],[532,0.15],[534,0.05],[536,0.016],[539,1.3e-3],[541,0.034],[543,1.15e-3],[545,0.063],[547,0.05],[549,2.3e-4],[551,0.043],[553,3.6e-3],[555,0.05],[558,0.59],[559,4.3e-4],[561,0.043],[563,0.034],[565,0.055],[567,0.05],[569,0.02],[571,0.05],[573,7.4e-5],[575,0.055],[577,0.034],[579,0.016],[581,4.6e-3],[584,0.41],[585,5.5e-4],[587,0.081],[589,0.05],[591,3.6e-3],[593,0.043],[595,0.06],[597,0.043],[599,0.034],[601,0.05],[603,5.9e-3],[605,0.043],[607,0.06],[609,0.05],[611,0.034],[613,0.52],[615,0.043],[617,0.05],[619,9.6e-3],[621,0.06],[622,6.2e-4],[624,0.055],[626,0.043],[628,2.2e-3],[630,0.06],[632,0.016],[634,9.6e-3],[636,0.06],[637,2e-6],[640,0.22],[642,0.05],[644,0.02],[646,0.05],[648,0.016],[650,0.03],[651,3.8e-4],[653,0.091],[655,0.043],[657,0.05],[658,4.8e-4],[660,1.3e-3],[662,9e-6],[664,2.9e-4],[666,0.055],[668,0.06],[670,0.026],[672,0.05],[675,2e-3],[677,0.055],[679,0.043],[682,6.2e-4],[684,0.06],[685,0.22],[687,0.05],[689,0.016],[691,0.034],[694,1.3e-3],[696,0.05],[698,0.06],[700,0.043],[702,0.055],[704,0.026],[707,2.3e-4],[709,0.17],[710,0.05],[712,3.7e-6],[714,8e-4],[716,0.05],[718,0.026],[720,0.06],[722,4e-5],[724,0.043],[726,0.06],[728,0.17],[730,0.05],[732,0.026],[734,2.2e-3],[736,0.071],[738,0.05],[740,9.6e-3],[742,0.043],[745,1e-3],[748,5.8e-5],[750,0.05],[752,0.15],[754,0.034],[756,1.1e-4],[758,0.05],[760,0.19],[762,0.05],[764,9.6e-3],[766,0.016],[767,1e-6],[769,4.6e-3],[771,0.055],[773,0.043],[775,0.06],[777,9.6e-3],[779,0.05],[781,3.6e-3],[783,0.034],[784,4.8e-4],[786,0.055],[788,0.05],[790,0.043],[791,8e-4],[793,0.05],[795,0.034],[797,0.06],[798,6.2e-4],[800,0.043],[802,0.034],[804,0.05],[805,1e-6],[808,0.28],[810,0.05],[812,0.25],[814,5.9e-3],[816,0.25],[818,0.043],[820,0.055],[823,4.6e-3],[825,0.043],[827,0.05],[829,4.6e-3],[831,0.06],[833,0.026],[835,0.05],[837,2.2e-3],[839,0.055],[841,0.043],[842,1.7e-3],[844,0.043],[846,0.05],[848,4.6e-3],[850,0.06],[853,0.19],[855,0.05],[857,9.6e-3],[859,0.055],[861,0.043],[863,0.02],[865,0.05],[867,1.2e-4],[869,0.071],[871,0.05],[873,0.034],[875,0.06],[878,0.59],[880,1.7e-3],[882,0.055],[884,0.05],[886,9.6e-3],[888,0.043],[890,0.06],[892,0.034],[894,9.6e-3],[896,0.05],[898,0.32],[900,0.02],[902,0.05],[904,0.026],[906,0.043],[909,1.1e-4],[911,0.05],[913,0.043],[915,0.06],[917,0.034],[919,5.9e-3],[921,0.05],[923,0.034],[925,0.06],[927,0.32],[929,9.6e-3],[931,0.05],[933,6.2e-4],[935,0.15],[937,0.05],[939,6.2e-4],[941,0.043],[943,0.06],[945,0.05],[947,9.5e-5],[948,0.05],[950,0.67],[952,2.9e-4],[955,0.52],[957,0.06],[959,0.016],[961,0.081],[963,0.05],[966,2.9e-4],[968,0.055],[970,0.043],[972,0.06],[975,1.15e-3],[977,0.043],[979,0.055],[981,0.05],[984,9e-4],[986,0.1],[988,0.05],[990,8e-4],[992,4.8e-4],[994,1.8e-6],[996,0.038],[998,0.05],[1000,5.9e-3]]

// panel list: column 0 = process, column 1 = quality
const panels = [
    { label: 'PCA', col: 0, row: 0, lo: -3, normal: pcaNormal, abnormal: pcaAbnormal, threshold: pcaThreshold },
    { label: 'SAE', col: 0, row: 1, lo: -3, normal: saeNormal, abnormal: saeAbnormal, threshold: saeThreshold },
    { label: 'TSSAE', col: 0, row: 2, lo: -3, normal: tssaeNormal, abnormal: tssaeAbnormal, threshold: tssaeThreshold },
    { label: 'TSUAE', col: 0, row: 3, lo: -3, normal: tsuaeNormal, abnormal: tsuaeAbnormal, threshold: tsuaeThreshold },
    { label: 'PLS', col: 1, row: 0, lo: -6, normal: plsNormal, abnormal: plsAbnormal, threshold: plsThreshold },
    { label: 'RR', col: 1, row: 1, lo: -6, normal: rrNormal, abnormal: rrAbnormal, threshold: rrThreshold },
    { label: 'TSSAE', col: 1, row: 2, lo: -6, normal: qTssaeNormal, abnormal: qTssaeAbnormal, threshold: qTssaeThreshold },
    { label: 'TSUAE', col: 1, row: 3, lo: -6, normal: qTsuaeNormal, abnormal: qTsuaeAbnormal, threshold: qTsuaeThreshold }
]
const hi = 1

// layout
const colLeft = [127, 1321]
const colWidth = [1017, 1022]
const rowTop = [47, 327, 607, 887]
const rowHeight = 216

const tickFont = 'DejaVu Sans'
const serif = 'Liberation Serif'

function powLabel(v) {
    const e = Math.round(Math.log10(v))
    return '{b|10}{s|' + (e < 0 ? '\u2212' + (-e) : e) + '}'
}

// minor tick positions (2..9 x 10^d) on an exponent scale
function minorTicks(lo, hi) {
    const out = []
    for (let d = lo; d < hi; d++) {
        for (let m = 2; m <= 9; m++) out.push(d + Math.log10(m))
    }
    return out
}

var myChart = echarts.init(document.getElementById('chart'), null, { renderer: 'canvas' })

const grid = [], xAxis = [], yAxis = [], series = []
panels.forEach((p, i) => {
    grid.push({
        left: colLeft[p.col], top: rowTop[p.row], width: colWidth[p.col], height: rowHeight,
        show: true, borderColor: '#000', borderWidth: 1.2, backgroundColor: 'transparent'
    })
    xAxis.push({
        type: 'value', gridIndex: i, min: 0, max: 1000, interval: 200,
        axisLine: { show: false, onZero: false },
        axisTick: { length: 5, lineStyle: { color: '#000', width: 1.2 } },
        axisLabel: { fontFamily: tickFont, fontSize: 26, color: '#000', margin: 9, formatter: v => String(v) },
        splitLine: { show: false },
        name: p.row === 3 ? 'Samples' : '',
        nameLocation: 'middle', nameGap: 38,
        nameTextStyle: { fontFamily: serif, fontWeight: 'bold', fontSize: 42, color: '#000' }
    })
    yAxis.push({
        type: 'log', logBase: 10, gridIndex: i, position: 'left',
        min: Math.pow(10, p.lo), max: Math.pow(10, hi),
        axisLine: { show: false, onZero: false },
        axisTick: { length: 5, lineStyle: { color: '#000', width: 1.2 } },
        axisLabel: {
            formatter: powLabel, margin: 10,
            rich: {
                b: { fontFamily: tickFont, fontSize: 26, color: '#000', verticalAlign: 'middle' },
                s: { fontFamily: tickFont, fontSize: 18, color: '#000', verticalAlign: 'middle', padding: [0, 0, 17, 0] }
            }
        },
        splitLine: { show: false },
        name: p.label, nameLocation: 'middle', nameRotate: 90, nameGap: 80,
        nameTextStyle: { fontFamily: serif, fontWeight: 'bold', fontSize: 42, color: '#000' }
    })
    yAxis.push({
        type: 'value', gridIndex: i, position: 'left', offset: 0, min: p.lo, max: hi,
        axisLine: { show: false, onZero: false },
        axisTick: { length: 3, lineStyle: { color: '#000', width: 0.9 }, customValues: minorTicks(p.lo, hi) },
        axisLabel: { show: false },
        splitLine: { show: false }
    })
    const common = { type: 'line', xAxisIndex: i, yAxisIndex: 2 * i, symbol: 'none', showSymbol: false, animation: false }
    series.push(Object.assign({}, common, { name: 'Normal', data: p.normal, lineStyle: { color: '#0000ff', width: 2.4 }, itemStyle: { color: '#0000ff' } }))
    series.push(Object.assign({}, common, { name: 'Abnormal', data: p.abnormal, lineStyle: { color: '#ff0000', width: 2.4 }, itemStyle: { color: '#ff0000' } }))
    series.push(Object.assign({}, common, {
        name: 'Threshold', data: [[0, p.threshold], [1000, p.threshold]],
        lineStyle: { color: '#000', width: 2.8, type: [10, 4.4] }, itemStyle: { color: '#000' }
    }))
})

const option = {
    backgroundColor: '#fff',
    animation: false,
    title: [
        { text: 'Process subspace of fault1', left: colLeft[0] + colWidth[0] / 2, top: 2, textAlign: 'center',
          textStyle: { fontFamily: serif, fontWeight: 'bold', fontSize: 40, color: '#000' } },
        { text: 'Quality subspace of fault1', left: colLeft[1] + colWidth[1] / 2, top: 2, textAlign: 'center',
          textStyle: { fontFamily: serif, fontWeight: 'bold', fontSize: 40, color: '#000' } }
    ],
    legend: {
        data: ['Normal', 'Abnormal', 'Threshold'],
        orient: 'vertical', left: 138, top: 56,
        itemWidth: 43, itemHeight: 20, itemGap: 11,
        padding: [8, 10, 8, 7],
        backgroundColor: 'rgba(255,255,255,0.8)',
        borderColor: '#cccccc', borderWidth: 1, borderRadius: 5,
        itemStyle: { opacity: 0 },
        textStyle: { fontFamily: tickFont, fontSize: 20, color: '#000', padding: [0, 0, 0, 11] }
    },
    grid: grid,
    xAxis: xAxis,
    yAxis: yAxis,
    series: series
}
myChart.setOption(option)
</script>
</body>
</html>
